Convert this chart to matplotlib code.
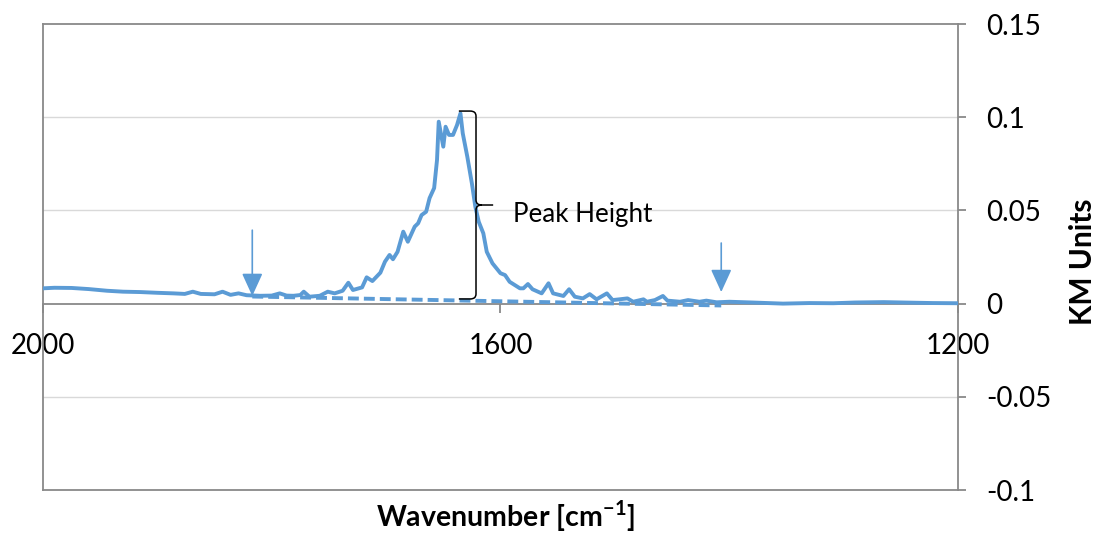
"""KM spectrum with peak-height annotation (Excel-style chart)."""

import matplotlib

matplotlib.use("Agg")

import matplotlib.pyplot as plt
from matplotlib.path import Path
from matplotlib.patches import PathPatch

plt.rcParams["font.family"] = ["Lato", "DejaVu Sans"]
plt.rcParams["mathtext.fontset"] = "custom"
plt.rcParams["mathtext.rm"] = "Lato"
plt.rcParams["mathtext.bf"] = "Lato:bold"

# spectrum (wavenumber, KM units)
wavenumber = [
    2000, 1990, 1975, 1960, 1944, 1930, 1915, 1900, 1886, 1876, 1869, 1862,
    1850, 1843, 1836, 1829, 1822, 1810, 1800, 1793, 1787, 1781, 1775, 1772,
    1767, 1758, 1751, 1745, 1738, 1733, 1729, 1721, 1717, 1712, 1705, 1701,
    1697, 1694, 1690, 1685, 1681, 1675, 1672, 1669, 1665, 1662, 1658, 1655.5,
    1654, 1650, 1648, 1645, 1641.5, 1638, 1635, 1633, 1629, 1625, 1622, 1619,
    1615, 1612, 1607, 1600, 1596, 1592, 1583, 1580, 1576, 1572, 1564, 1558,
    1554, 1545, 1540, 1535, 1528, 1522, 1516, 1507, 1502, 1496, 1489, 1484,
    1475, 1472, 1465, 1458, 1454, 1443, 1436, 1426, 1420, 1411, 1400, 1380,
    1353, 1330, 1309, 1290, 1265, 1240, 1222, 1200,
]
km_units = [
    0.0082, 0.0085, 0.0084, 0.0078, 0.0069, 0.0064, 0.0062, 0.0058, 0.0055,
    0.0052, 0.0064, 0.0052, 0.0050, 0.0064, 0.0047, 0.0055, 0.0045, 0.0042,
    0.0043, 0.0055, 0.0043, 0.0042, 0.0046, 0.0064, 0.0037, 0.0042, 0.0064,
    0.0055, 0.0069, 0.0112, 0.0073, 0.0087, 0.0141, 0.0121, 0.0166, 0.0225,
    0.0261, 0.0238, 0.0278, 0.0386, 0.0332, 0.0413, 0.0431, 0.0475, 0.0493,
    0.0566, 0.0620, 0.0770, 0.0976, 0.0842, 0.0949, 0.0905, 0.0905, 0.0958,
    0.1021, 0.0914, 0.0788, 0.0645, 0.0520, 0.0439, 0.0377, 0.0278, 0.0216,
    0.0163, 0.0153, 0.0117, 0.0082, 0.0082, 0.0105, 0.0077, 0.0055, 0.0109,
    0.0055, 0.0041, 0.0077, 0.0037, 0.0028, 0.0051, 0.0023, 0.0055, 0.0019,
    0.0023, 0.0028, 0.0010, 0.0023, 0.0010, 0.0019, 0.0041, 0.0016, 0.0010,
    0.0019, 0.0010, 0.0016, 0.0007, 0.0010, 0.0006, 0.0000, 0.0003, 0.0002,
    0.0006, 0.0008, 0.0005, 0.0003, 0.0002,
]

# baseline drawn between the two integration limits
baseline_x = [1817, 1407]
baseline_y = [0.0038, -0.0010]

# arrows marking the limits: (x, y_start, y_tip)
arrow_x = [1817, 1407]
arrow_top = [0.0394, 0.0325]
arrow_tip = [0.0041, 0.0062]

# curly brace for the peak height
brace_x = 1621.4
brace_top = 0.1033
brace_bottom = 0.0025
brace_mid = 0.0529

x_ticks = [2000, 1600, 1200]
y_ticks = [-0.1, -0.05, 0, 0.05, 0.1, 0.15]
y_tick_labels = ["-0.1", "-0.05", "0", "0.05", "0.1", "0.15"]

BLUE = "#5B9BD5"
AXIS_GREY = "#898989"
GRID_GREY = "#D9D9D9"

fig = plt.figure(figsize=(10.99, 5.35), dpi=100)
ax = fig.add_axes([0.0391, 0.0841, 0.8326, 0.871])

ax.set_xlim(2000, 1200)
ax.set_ylim(-0.1, 0.15)

for y in y_ticks[1:-1]:
    if y != 0:
        ax.axhline(y, color=GRID_GREY, lw=1.0, zorder=0)

ax.plot(wavenumber, km_units, color=BLUE, lw=2.8, zorder=3,
        solid_joinstyle="round", solid_capstyle="round")
ax.plot(baseline_x, baseline_y, color=BLUE, lw=2.8, ls=(0, (2.8, 1.3)), zorder=3)

for x, y0, y1 in zip(arrow_x, arrow_top, arrow_tip):
    ax.annotate(
        "",
        xy=(x, y1),
        xytext=(x, y0),
        arrowprops=dict(
            arrowstyle="-|>,head_length=0.7,head_width=0.32",
            color=BLUE,
            lw=1.2,
            mutation_scale=20,
            shrinkA=0,
            shrinkB=0,
        ),
        zorder=4,
    )

# brace: hooks at top/bottom, cusp pointing right at the middle
hook = 15.0   # wavenumber extent of end hooks
curl = 5.0
tip = 15.0
dy = 0.0027
verts = [
    (brace_x + hook, brace_top), (brace_x + curl, brace_top),
    (brace_x, brace_top), (brace_x, brace_top - dy),
    (brace_x, brace_mid + dy),
    (brace_x, brace_mid), (brace_x - curl, brace_mid),
    (brace_x - tip, brace_mid),
    (brace_x - curl, brace_mid),
    (brace_x, brace_mid), (brace_x, brace_mid - dy),
    (brace_x, brace_bottom + dy),
    (brace_x, brace_bottom), (brace_x + curl, brace_bottom),
    (brace_x + hook, brace_bottom),
]
codes = [
    Path.MOVETO, Path.LINETO,
    Path.CURVE3, Path.CURVE3,
    Path.LINETO,
    Path.CURVE3, Path.CURVE3,
    Path.LINETO,
    Path.MOVETO,
    Path.CURVE3, Path.CURVE3,
    Path.LINETO,
    Path.CURVE3, Path.CURVE3,
    Path.LINETO,
]
ax.add_patch(PathPatch(Path(verts, codes), fill=False, color="black", lw=1.1, zorder=4))
ax.text(1589, 0.048, "Peak Height", fontsize=18.7, va="center", ha="left")

# frame + axis through zero
for side in ["left", "right", "top", "bottom"]:
    ax.spines[side].set_color(AXIS_GREY)
    ax.spines[side].set_linewidth(1.3)
ax.spines["bottom"].set_position(("data", 0))
ax.axhline(-0.1, color=AXIS_GREY, lw=1.3, clip_on=False, zorder=5)

ax.set_xticks(x_ticks)
ax.set_xticklabels([str(t) for t in x_ticks])
ax.set_yticks(y_ticks)
ax.set_yticklabels(y_tick_labels)
ax.yaxis.tick_right()
ax.tick_params(axis="x", direction="out", length=6.5, width=1.3, color=AXIS_GREY,
               labelsize=20, pad=15)
ax.tick_params(axis="y", direction="out", length=6, width=1.3, color=AXIS_GREY,
               labelsize=20, pad=14)

fig.text(505 / 1099, 1 - 516 / 535, r"Wavenumber [cm$^{\mathbf{-1}}$]",
         fontsize=20.5, fontweight="bold", ha="center", va="center")
fig.text(1083 / 1099, 1 - 262 / 535, "KM Units", fontsize=21.5, fontweight="bold",
         rotation=90, ha="center", va="center")

fig.savefig("out.png", dpi=100)
